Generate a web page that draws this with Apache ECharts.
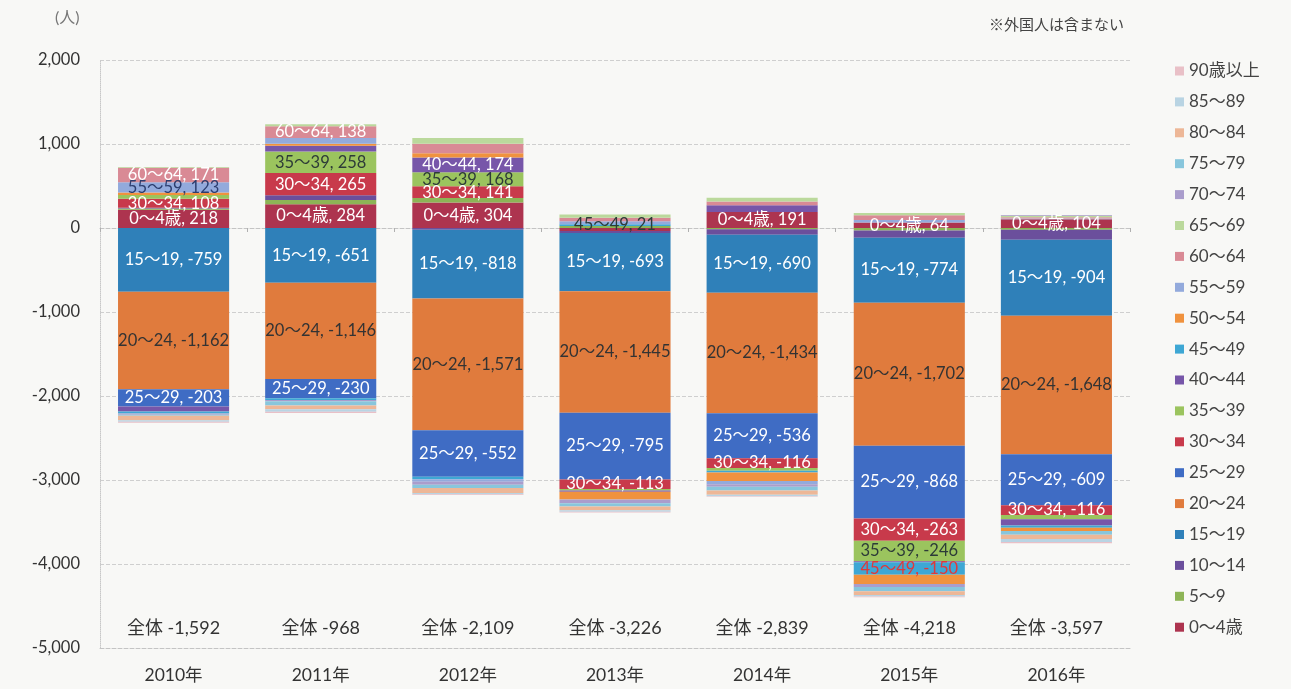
<!DOCTYPE html>
<html><head><meta charset="utf-8">
<script src="https://cdn.jsdelivr.net/npm/echarts@6/dist/echarts.min.js"></script>
<style>html,body{margin:0;padding:0;background:#f8f8f6;}#c{width:1291px;height:689px;}</style>
</head><body><div id="c"></div>
<script>
// ---- data ----
const years = ['2010年','2011年','2012年','2013年','2014年','2015年','2016年'];
const totals = [-1592, -968, -2109, -3226, -2839, -4218, -3597];
const yTicks = [-5000, 2000, 1000]; // min, max, interval

const ageGroups = ['0～4歳','5～9','10～14','15～19','20～24','25～29','30～34','35～39','40～44','45～49','50～54','55～59','60～64','65～69','70～74','75～79','80～84','85～89','90歳以上'];

const a00_04 = [218, 284, 304, -35, 191, 64, 104];
const a05_09 = [15, 50, 52, 25, -15, -30, -20];
const a10_14 = [8, 55, -20, -25, -65, -85, -120];
const a15_19 = [-759, -651, -818, -693, -690, -774, -904];
const a20_24 = [-1162, -1146, -1571, -1445, -1434, -1702, -1648];
const a25_29 = [-203, -230, -552, -795, -536, -868, -609];
const a30_34 = [108, 265, 141, -113, -116, -263, -116];
const a35_39 = [45, 258, 168, -20, -35, -246, -50];
const a40_44 = [-60, 68, 174, -15, 80, -10, -75];
const a45_49 = [-25, -20, -30, 21, -20, -150, -25];
const a50_54 = [28, 24, 52, -90, -100, -110, -40];
const a55_59 = [123, 68, -30, 35, -40, 32, 10];
const a60_64 = [171, 138, 111, 40, 45, 55, 15];
const a65_69 = [10, 24, 68, 40, 45, 28, 18];
const a70_74 = [-15, -15, -35, -45, -30, -35, 8];
const a75_79 = [-10, -50, -40, -40, -45, -50, -45];
const a80_84 = [-54, -45, -60, -45, -50, -45, -50];
const a85_89 = [-20, -30, -15, -18, -16, -20, -35];
const a90up  = [-10, -15, -8, -8, -8, -9, -15];

const seriesValues = [a00_04,a05_09,a10_14,a15_19,a20_24,a25_29,a30_34,a35_39,a40_44,a45_49,a50_54,a55_59,a60_64,a65_69,a70_74,a75_79,a80_84,a85_89,a90up];

// which year indices carry a data label, per age group
const labelledYears = {
  '0～4歳': [0,1,2,4,5,6],
  '15～19': [0,1,2,3,4,5,6],
  '20～24': [0,1,2,3,4,5,6],
  '25～29': [0,1,2,3,4,5,6],
  '30～34': [0,1,2,3,4,5,6],
  '35～39': [1,2,5],
  '40～44': [2],
  '45～49': [3,5],
  '55～59': [0],
  '60～64': [0,1]
};

// ---- styles ----
const colors = ['#ad344f','#8db456','#6b4f9c','#2f80b9','#e07b3d','#3f6cc4','#c83a4b','#9bc45e','#7756a9','#3ea7d4','#f0923e','#93aadc','#d98a95','#bbd99c','#aa9dcc','#88c6dc','#edb797','#b9d4e3','#e9c0c7'];
const labelColors = {'20～24':'#333','35～39':'#2d3b38','45～49':'#2d3b38','55～59':'#2c3d6e'};
const labelOverride = {'45～49|5':'#e0383a'};
const FONT = "Lato, 'Noto Sans CJK JP', sans-serif";
const fmt = v => v.toLocaleString('en-US');

const series = ageGroups.map((name, si) => ({
  name: name,
  type: 'bar',
  stack: 'total',
  xAxisIndex: 0,
  barCategoryGap: '24.5%',
  itemStyle: {color: colors[si]},
  emphasis: {disabled: true},
  data: seriesValues[si].map((v, yi) => {
    const show = (labelledYears[name] || []).indexOf(yi) >= 0;
    return {
      value: v,
      label: {
        show: show,
        position: 'inside',
        formatter: p => p.seriesName + ', ' + fmt(p.value),
        color: labelOverride[name + '|' + yi] || labelColors[name] || '#fff',
        fontSize: 16.5,
        fontFamily: FONT
      }
    };
  })
}));

const chart = echarts.init(document.getElementById('c'));
chart.setOption({
  backgroundColor: '#f8f8f6',
  animation: false,
  title: [
    {text: '(人)', left: 50, top: 5, textStyle: {fontSize: 16, fontWeight: 'normal', color: '#777', fontFamily: FONT}},
    {text: '※外国人は含まない', left: 984, top: 13, textStyle: {fontSize: 15, fontWeight: 'normal', color: '#444', fontFamily: FONT}}
  ],
  grid: {left: 100, right: 161, top: 60, bottom: 41},
  legend: {
    orient: 'vertical', left: 1170, top: 57,
    itemWidth: 9, itemHeight: 9, itemGap: 12.9, icon: 'rect',
    data: ageGroups.slice().reverse(),
    textStyle: {fontSize: 17, color: '#444', fontFamily: FONT, lineHeight: 18},
    selectedMode: false
  },
  xAxis: [
    {type: 'category', data: years, position: 'bottom',
     axisLine: {show: true, onZero: false, lineStyle: {color: '#c4c4c4', type: 'dashed'}},
     axisTick: {show: false},
     axisLabel: {fontSize: 17.5, color: '#333', margin: 19, fontFamily: FONT}},
    {type: 'category', data: years, position: 'bottom',
     axisLine: {show: false, onZero: false}, axisTick: {show: false},
     axisLabel: {inside: true, margin: 11, fontSize: 18, color: '#333', fontFamily: FONT,
       formatter: (v, i) => '全体 ' + fmt(totals[i])}},
    {type: 'category', data: years, position: 'bottom',
     axisLine: {show: true, onZero: true, lineStyle: {color: '#c4c4c4', type: 'dashed'}},
     axisTick: {show: true, length: 4, lineStyle: {color: '#b0b0b0'}},
     axisLabel: {show: false}}
  ],
  yAxis: {
    type: 'value', min: yTicks[0], max: yTicks[1], interval: yTicks[2],
    axisLine: {show: true, lineStyle: {color: '#c8c8c8', type: 'dotted'}},
    axisTick: {show: false},
    splitLine: {lineStyle: {color: '#cfcfcf', type: 'dashed'}},
    axisLabel: {fontSize: 16.5, color: '#333', margin: 20, formatter: v => fmt(v), fontFamily: FONT}
  },
  series: series
});
</script></body></html>
